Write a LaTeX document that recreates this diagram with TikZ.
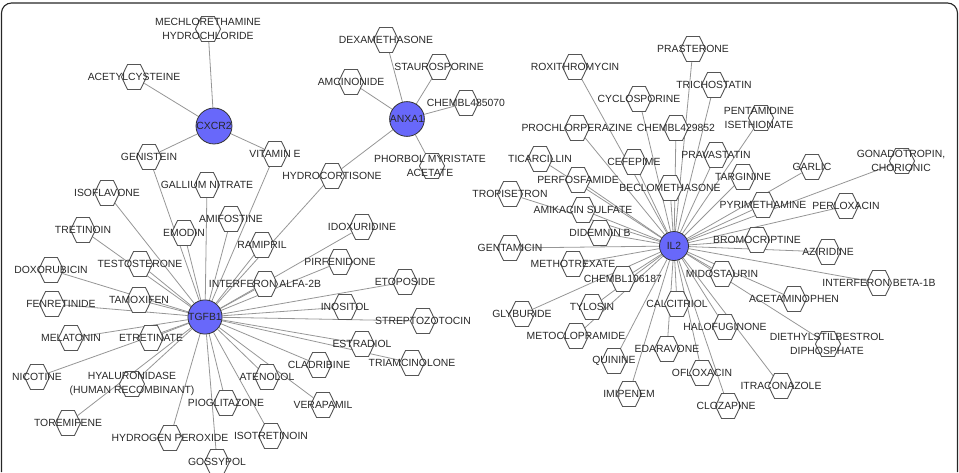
\documentclass[tikz,border=0pt]{standalone}
\usepackage{fontspec}
\setmainfont{Liberation Sans}
\pgfdeclarelayer{bg}
\pgfsetlayers{bg,main}
\definecolor{hubblue}{RGB}{104,104,250}
\definecolor{edgegray}{RGB}{150,150,150}
\definecolor{hexgray}{RGB}{85,85,85}
\definecolor{txt}{RGB}{40,40,40}
\tikzset{
  hexanchor/.style={circle,minimum size=24pt,inner sep=0pt,draw=none},
  hexline/.style={draw=hexgray,fill=white,line width=0.9pt,line join=miter},
  lbl/.style={text=txt,font=\fontsize{10.4}{14.5}\selectfont,align=center,inner sep=0pt},
  hub/.style={circle,minimum size=29pt,inner sep=0pt,fill=hubblue,draw=black!80,line width=0.8pt,text=txt,font=\fontsize{10.4}{12}\selectfont},
  edge/.style={draw=edgegray,line width=0.8pt},
  frame/.style={draw=black!85,line width=1.1pt,rounded corners=10pt}
}
\newcommand\hx[5][0pt]{%
  \node[hexanchor] (#2) at (#3,#4) {};
  \draw[hexline] (#3,#4) ++(-12.5,0) -- ++(6,-12.5) -- ++(13,0) -- ++(6,12.5) -- ++(-6,12.5) -- ++(-13,0) -- cycle;
  \node[lbl] (#2-t) at ([xshift=#1]#2.center) {#5};
}
\begin{document}
\begin{tikzpicture}[x=1pt,y=-1pt]
\useasboundingbox (0,0) rectangle (959,472);
\draw[frame] (1.5,472) |- (957.5,3) -- (957.5,472);
% hubs
\node[hub] (cx) at (214,126) {CXCR2};
\node[hub] (an) at (407,119) {ANXA1};
\node[hub] (tg) at (205,317) {TGFB1};
\node[hub] (il) at (674,246) {IL2};
% left cluster
\hx{mech}{208}{29}{MECHLORETHAMINE\\HYDROCHLORIDE}
\hx{acet}{134}{77}{ACETYLCYSTEINE}
\hx{geni}{149}{157}{GENISTEIN}
\hx{vite}{275}{154}{VITAMIN E}
\hx{gall}{207}{185}{GALLIUM NITRATE}
\hx{isof}{107}{193}{ISOFLAVONE}
\hx{amif}{231}{219}{AMIFOSTINE}
\hx{tret}{83}{230}{TRETINOIN}
\hx{emod}{184}{233}{EMODIN}
\hx{hydc}{332}{176}{HYDROCORTISONE}
\hx{rami}{262}{245}{RAMIPRIL}
\hx{test}{140}{264}{TESTOSTERONE}
\hx{doxo}{51}{270}{DOXORUBICIN}
\hx{infa}{265}{284}{INTERFERON ALFA-2B}
\hx[9pt]{fenr}{52}{304}{FENRETINIDE}
\hx{tamo}{139}{300}{TAMOXIFEN}
\hx{mela}{71}{338}{MELATONIN}
\hx{etre}{151}{338}{ETRETINATE}
\hx{nico}{37}{377}{NICOTINE}
\hx{hyal}{132}{384}{HYALURONIDASE\\(HUMAN RECOMBINANT)}
\hx{aten}{267}{377}{ATENOLOL}
\hx{piog}{226}{403}{PIOGLITAZONE}
\hx{tore}{68}{423}{TOREMIFENE}
\hx{hper}{170}{438}{HYDROGEN PEROXIDE}
\hx{isot}{271}{436}{ISOTRETINOIN}
\hx{goss}{217}{462}{GOSSYPOL}
\hx{clad}{319}{365}{CLADRIBINE}
\hx{vera}{323}{405}{VERAPAMIL}
\hx{dexa}{386}{40}{DEXAMETHASONE}
\hx{stau}{439}{67}{STAUROSPORINE}
\hx{amci}{351}{82}{AMCINONIDE}
\hx{chfe}{466}{103}{CHEMBL485070}
\hx[-2pt]{phor}{432}{166}{PHORBOL MYRISTATE\\ACETATE}
\hx{idox}{362}{227}{IDOXURIDINE}
\hx{pirf}{340}{262}{PIRFENIDONE}
\hx{etop}{405}{282}{ETOPOSIDE}
\hx{inos}{345}{307}{INOSITOL}
\hx{strp}{423}{321}{STREPTOZOTOCIN}
\hx{estr}{362}{344}{ESTRADIOL}
\hx{tria}{412}{363}{TRIAMCINOLONE}
% right cluster
\hx{pras}{693}{49}{PRASTERONE}
\hx{roxi}{575}{67}{ROXITHROMYCIN}
\hx{tric}{714}{85}{TRICHOSTATIN}
\hx{cycl}{639}{99}{CYCLOSPORINE}
\hx[-2pt]{pent}{761}{118}{PENTAMIDINE\\ISETHIONATE}
\hx{proc}{577}{128}{PROCHLORPERAZINE}
\hx{cfnt}{676}{128}{CHEMBL429852}
\hx{tica}{540}{159}{TICARCILLIN}
\hx{cefe}{634}{162}{CEFEPIME}
\hx{prav}{716}{155}{PRAVASTATIN}
\hx{perf}{578}{180}{PERFOSFAMIDE}
\hx{becl}{670}{188}{BECLOMETHASONE}
\hx{trop}{510}{194}{TROPISETRON}
\hx{amik}{583}{210}{AMIKACIN SULFATE}
\hx{targ}{743}{177}{TARGININE}
\hx{dide}{600}{233}{DIDEMNIN B}
\hx{garl}{812}{167}{GARLIC}
\hx[-1pt]{gona}{902}{161}{GONADOTROPIN,\\CHORIONIC}
\hx{pyri}{763}{205}{PYRIMETHAMINE}
\hx{perl}{846}{206}{PERLOXACIN}
\hx{brom}{757}{240}{BROMOCRIPTINE}
\hx{azir}{828}{252}{AZIRIDINE}
\hx{gent}{510}{248}{GENTAMICIN}
\hx{meth}{573}{264}{METHOTREXATE}
\hx{mido}{722}{274}{MIDOSTAURIN}
\hx{cone}{623}{279}{CHEMBL106187}
\hx{infb}{879}{283}{INTERFERON BETA-1B}
\hx{tylo}{592}{307}{TYLOSIN}
\hx{acta}{794}{299}{ACETAMINOPHEN}
\hx{calc}{677}{304}{CALCITRIOL}
\hx{glyb}{522}{314}{GLYBURIDE}
\hx{halo}{725}{327}{HALOFUGINONE}
\hx{meto}{576}{336}{METOCLOPRAMIDE}
\hx[-1pt]{diet}{828}{344}{DIETHYLSTILBESTROL\\DIPHOSPHATE}
\hx{edar}{667}{349}{EDARAVONE}
\hx{quin}{614}{361}{QUININE}
\hx{oflo}{702}{373}{OFLOXACIN}
\hx{itra}{781}{386}{ITRACONAZOLE}
\hx{imip}{629}{394}{IMIPENEM}
\hx[-2pt]{cloz}{728}{406}{CLOZAPINE}
% edges
\begin{pgfonlayer}{bg}
\foreach \n in {mech,acet,geni,vite} \draw[edge] (cx) -- (\n);
\foreach \n in {dexa,stau,amci,chfe,phor,hydc} \draw[edge] (an) -- (\n);
\foreach \n in {geni,vite,hydc,gall,isof,amif,tret,emod,rami,test,doxo,infa,fenr,tamo,mela,etre,nico,hyal,tore,aten,piog,hper,isot,goss,clad,vera,idox,pirf,etop,inos,strp,estr,tria} \draw[edge] (tg) -- (\n);
\foreach \n in {pras,roxi,tric,cycl,pent,proc,cfnt,tica,cefe,prav,perf,becl,trop,amik,targ,dide,garl,gona,pyri,perl,brom,azir,gent,meth,mido,cone,infb,tylo,acta,calc,glyb,halo,meto,diet,edar,quin,oflo,itra,imip,cloz} \draw[edge] (il) -- (\n);
\end{pgfonlayer}
\end{tikzpicture}
\end{document}
